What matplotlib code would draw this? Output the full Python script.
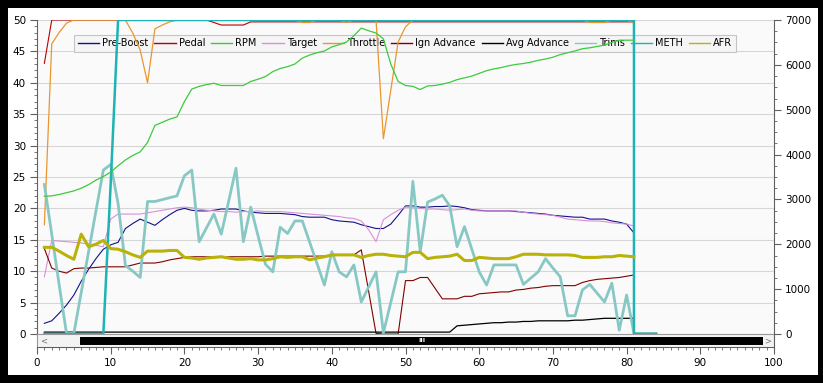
import numpy as np
import matplotlib
matplotlib.use("Agg")
import matplotlib.pyplot as plt
from matplotlib.patches import Rectangle
from matplotlib.lines import Line2D
from matplotlib.ticker import FixedLocator

# ---- data (sample index 1..84) ----
samples = list(range(1, 85))

pre_boost = [1.7, 2.1, 3.3, 4.6, 6.2, 8.4, 10.3, 12.0, 13.5, 14.2,
             14.6, 16.8, 17.6, 18.3, 17.8, 17.3, 18.2, 19.0, 19.7, 20.0,
             19.7, 19.6, 19.6, 19.7, 19.9, 19.9, 19.9, 19.6, 19.4, 19.3,
             19.2, 19.2, 19.2, 19.1, 19.0, 18.7, 18.6, 18.6, 18.6, 18.2,
             18.0, 17.9, 17.8, 17.4, 17.1, 16.8, 16.8, 17.5, 18.9, 20.4,
             20.4, 20.2, 20.2, 20.3, 20.3, 20.4, 20.3, 20.1, 19.8, 19.7,
             19.6, 19.6, 19.6, 19.6, 19.5, 19.4, 19.3, 19.2, 19.1, 18.9,
             18.8, 18.7, 18.6, 18.6, 18.3, 18.3, 18.3, 18.0, 17.8, 17.5,
             16.1]

pedal = [43.1] + [50.0] * 22 + [49.6, 49.2, 49.2, 49.2, 49.2] + [49.7] * 53

rpm = [3070, 3080, 3110, 3150, 3190, 3250, 3330, 3430, 3510, 3610,
       3750, 3880, 3980, 4060, 4270, 4650, 4720, 4790, 4840, 5180,
       5460, 5520, 5560, 5590, 5540, 5540, 5540, 5540, 5630, 5680,
       5740, 5850, 5920, 5960, 6020, 6150, 6220, 6270, 6310, 6400,
       6450, 6510, 6650, 6820, 6760, 6710, 6580, 6020, 5630, 5540,
       5520, 5450, 5530, 5540, 5570, 5610, 5670, 5710, 5750, 5810,
       5870, 5910, 5940, 5980, 6010, 6030, 6060, 6100, 6130, 6170,
       6230, 6270, 6310, 6360, 6380, 6410, 6440, 6500, 6550, 6550,
       6550]

target = [9.1, 14.9, 14.8, 14.7, 14.6, 14.5, 14.3, 14.1, 13.9, 18.3,
          19.1, 19.1, 19.1, 19.1, 19.3, 19.5, 19.7, 19.9, 20.1, 20.2,
          20.1, 19.9, 19.7, 19.6, 19.5, 19.5, 19.4, 19.5, 19.5, 19.6,
          19.5, 19.5, 19.5, 19.4, 19.3, 19.2, 19.1, 19.0, 18.9, 18.8,
          18.7, 18.5, 18.4, 18.0, 16.6, 14.7, 18.2, 19.0, 19.7, 20.2,
          20.1, 20.0, 19.9, 19.9, 19.8, 19.7, 19.8, 19.9, 19.7, 19.6,
          19.6, 19.6, 19.6, 19.6, 19.6, 19.4, 19.2, 19.1, 19.0, 18.9,
          18.6, 18.3, 18.2, 18.1, 18.0, 18.0, 17.9, 17.7, 17.6, 17.5,
          17.2]

throttle = ([17.4, 46.2, 48.0, 49.5] + [50.0] * 8
            + [47.9, 45.2, 40.0, 48.6, 49.2, 49.7] + [50.0] * 17
            + [49.6, 49.6] + [50.0] * 4 + [49.6] + [50.0] * 4
            + [31.1, 38.8, 46.5, 48.9] + [50.0] * 24
            + [49.6, 49.6, 49.6, 50.0, 50.0, 50.0, 49.5])

ign_advance = ([13.6, 10.5, 10.0, 9.7, 10.4, 10.5, 10.5, 10.6, 10.7, 10.7,
                10.7, 10.7, 11.0, 11.3, 11.3, 11.3, 11.5, 11.8, 12.0, 12.2]
               + [12.3] * 10 + [12.4] * 10 + [12.6] * 3
               + [13.4, 6.8, 0.1, 0.0, 0.0, 0.0, 8.5, 8.5, 9.0, 9.0,
                  7.3, 5.6, 5.6, 5.6, 6.0, 6.0, 6.4, 6.5, 6.6, 6.7,
                  6.7, 7.0, 7.1, 7.3, 7.4, 7.6, 7.7, 7.7, 7.7, 7.7,
                  8.2, 8.5, 8.7, 8.8, 8.9, 9.0, 9.2, 9.4])

avg_advance = [0.3] * 56 + [1.3, 1.4, 1.5, 1.6, 1.7, 1.8, 1.8, 1.9, 1.9, 2.0,
                            2.0, 2.1, 2.1, 2.1, 2.1, 2.1, 2.2, 2.2, 2.3, 2.4,
                            2.5, 2.5, 2.5, 2.5, 2.5]

trims = [23.8, 15.9, 7.9, 0.1, 0.1, 6.6, 13.1, 19.6, 26.1, 27.0,
         20.8, 10.9, 10.0, 9.0, 21.1, 21.1, 21.4, 21.7, 22.0, 25.2,
         26.1, 14.7, 16.9, 19.1, 15.9, 21.1, 26.4, 14.7, 20.2, 15.6,
         11.1, 9.9, 17.0, 16.0, 18.0, 18.0, 14.6, 11.2, 7.8, 13.1,
         9.9, 9.1, 11.0, 5.1, 7.5, 9.9, 0.2, 5.0, 9.9, 9.9,
         24.3, 13.1, 21.0, 21.5, 22.1, 20.4, 13.9, 17.1, 13.5, 9.9,
         7.8, 11.0, 11.0, 11.0, 11.0, 7.9, 8.9, 9.9, 12.0, 10.5,
         9.1, 2.9, 2.9, 7.0, 7.9, 6.5, 5.1, 8.1, 0.6, 6.2,
         0.1, 0.1, 0.1, 0.1]

# METH drops straight down at sample 81 (two readings logged there)
meth_x = list(range(1, 82)) + [81, 82, 83, 84]
meth = [0.0] * 9 + [24.0] + [50.0] * 71 + [0.0] * 4

afr = [13.8, 13.8, 13.2, 12.5, 11.9, 15.9, 13.9, 14.3, 14.9, 13.6,
       13.5, 13.1, 12.6, 12.2, 13.2, 13.2, 13.2, 13.3, 13.3, 12.2,
       12.1, 11.9, 12.1, 12.2, 12.3, 12.1, 11.9, 11.9, 12.0, 11.8,
       11.8, 12.0, 12.3, 12.2, 12.3, 12.3, 11.8, 12.1, 12.3, 12.6,
       12.6, 12.6, 12.6, 12.2, 12.5, 12.7, 12.7, 12.5, 12.4, 12.3,
       13.0, 13.0, 12.0, 12.2, 12.3, 12.4, 12.7, 11.7, 11.7, 12.2,
       12.1, 12.0, 12.0, 12.0, 12.3, 12.7, 12.7, 12.7, 12.6, 12.6,
       12.6, 12.6, 12.5, 12.2, 12.2, 12.2, 12.3, 12.3, 12.5, 12.4,
       12.3]

names = ["Pre-Boost", "Pedal", "RPM", "Target", "Throttle", "Ign Advance",
         "Avg Advance", "Trims", "METH", "AFR"]
colors = ["#12128C", "#B80000", "#3CCB3C", "#DA8FDA", "#E9962F", "#800000",
          "#000000", "#88C8C4", "#1FB3B3", "#B9B20A"]

# ---- figure ----
W, H = 823, 383
fig = plt.figure(figsize=(W / 100, H / 100), dpi=100, facecolor="black")
fig.add_artist(Rectangle((8 / W, 8 / H), 810 / W, 367 / H, transform=fig.transFigure,
                         facecolor="white", edgecolor="none", zorder=-1))

y_bot = -13 / 6.28
ax = fig.add_axes([37 / W, (H - 347) / H, 737 / W, 327 / H])
ax.set_xlim(0, 100)
ax.set_ylim(y_bot, 50)
ax.set_facecolor("#FAFAFA")
ax.set_axisbelow(True)

ax2 = ax.twinx()
ax2.set_ylim(y_bot * 140, 7000)

axis_col = "#606060"
for a in (ax, ax2):
    for s in a.spines.values():
        s.set_visible(False)
ax.spines["left"].set_visible(True)
ax.spines["bottom"].set_visible(True)
ax2.spines["right"].set_visible(True)
ax.spines["left"].set_color(axis_col)
ax.spines["bottom"].set_color(axis_col)
ax2.spines["right"].set_color(axis_col)

ax.yaxis.set_major_locator(FixedLocator(np.arange(0, 51, 5)))
ax.yaxis.set_minor_locator(FixedLocator(np.arange(0, 51, 1)))
ax.xaxis.set_major_locator(FixedLocator(np.arange(0, 101, 10)))
ax.xaxis.set_minor_locator(FixedLocator(np.arange(0, 101, 1)))
ax2.yaxis.set_major_locator(FixedLocator(np.arange(0, 7001, 1000)))
ax2.yaxis.set_minor_locator(FixedLocator(np.arange(0, 7001, 250)))

for a in (ax, ax2):
    a.tick_params(which="major", length=5, width=0.8, color=axis_col,
                  labelsize=7.5, pad=3)
    a.tick_params(which="minor", length=2.5, width=0.6, color=axis_col)

ax.grid(axis="y", color="#D6D6D6", linewidth=0.8)

# ---- series ----
x81 = samples[:81]
ax.plot(x81, pre_boost, color=colors[0], lw=0.8, zorder=2)
ax.plot(x81, pedal, color=colors[1], lw=0.8, zorder=2)
ax.plot(x81, target, color=colors[3], lw=0.8, zorder=2)
ax.plot(x81, throttle, color=colors[4], lw=0.9, zorder=2)
ax.plot(x81, ign_advance, color=colors[5], lw=0.8, zorder=2)
ax.plot(x81, avg_advance, color=colors[6], lw=0.9, zorder=2)
ax.plot(samples, trims, color=colors[7], lw=2.0, zorder=2)
ax.plot(meth_x, meth, color=colors[8], lw=1.8, zorder=2)
ax.plot(x81, afr, color=colors[9], lw=2.2, zorder=2)
ax2.plot(x81, rpm, color=colors[2], lw=0.9, zorder=2)

# ---- scrollbar strip under the plot area ----
ax.add_patch(Rectangle((0, y_bot), 100, -y_bot, facecolor="#F3F3F3",
                       edgecolor="#9A9A9A", lw=0.8, zorder=6))
ax.add_patch(Rectangle((5.8, -1.75), 92.7, 1.27, facecolor="black",
                       edgecolor="none", zorder=7))
ax.text(0.9, -1.05, "<", fontsize=6, color="#707070", ha="center", va="center", zorder=8)
ax.text(99.2, -1.05, ">", fontsize=6, color="#707070", ha="center", va="center", zorder=8)
ax.text(52.2, -1.1, "III", fontsize=4.5, color="white", ha="center", va="center",
        zorder=8, fontweight="bold")

# ---- legend ----
handles = [Line2D([], [], color=c, lw=1) for c in colors]
leg = ax.legend(handles, names, ncol=10, loc="upper center",
                bbox_to_anchor=(0.4993, 0.954), borderaxespad=0, fontsize=7,
                frameon=True, fancybox=False, handlelength=2.2,
                handletextpad=0.3, columnspacing=0.6, borderpad=0.35,
                edgecolor="#C4C4C4", facecolor="#F5F5F5", framealpha=1)
leg.get_frame().set_linewidth(0.8)
leg.set_zorder(1.5)

fig.savefig("out.png", dpi=100, facecolor=fig.get_facecolor())
